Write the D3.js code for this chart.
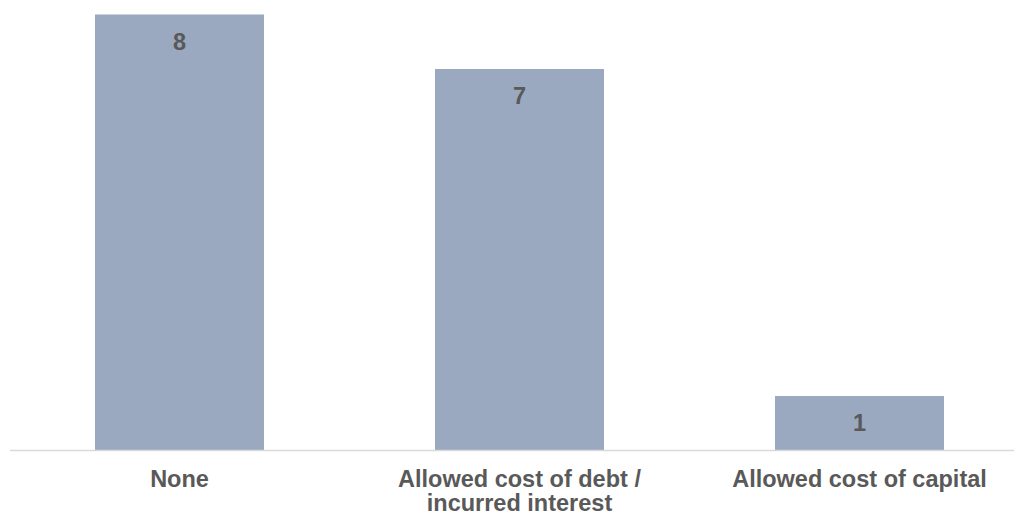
<!DOCTYPE html>
<html>
<head>
<meta charset="utf-8">
<script src="https://cdn.jsdelivr.net/npm/d3@7"></script>
<style>
  html, body { margin: 0; padding: 0; background: #ffffff; }
  svg { display: block; }
</style>
</head>
<body>
<svg id="chart" width="1014" height="515"></svg>
<script>
// Categories (label lines) and counts
const categories = ["None", "Allowed cost of debt / incurred interest", "Allowed cost of capital"];
const categoryLines = [["None"], ["Allowed cost of debt /", "incurred interest"], ["Allowed cost of capital"]];
const counts = [8, 7, 1];

const width = 1014, height = 515;
const baseline = 450.5;
const plotTop = 14.5;

const svg = d3.select("#chart");

const x = d3.scaleBand()
  .domain(categories)
  .range([9.5, 1029.5])
  .paddingInner(0.503)
  .paddingOuter(0.2515);

const y = d3.scaleLinear()
  .domain([0, 8])
  .range([baseline, plotTop]);

const fontFamily = "'Liberation Sans', Arial, sans-serif";
const textColor = "#595959";

// Bars
svg.append("g")
  .selectAll("rect")
  .data(counts)
  .join("rect")
  .attr("x", (d, i) => x(categories[i]))
  .attr("y", d => y(d))
  .attr("width", x.bandwidth())
  .attr("height", d => baseline - y(d))
  .attr("fill", "#9aa9bf");

// Value labels inside the bar tops
svg.append("g")
  .selectAll("text")
  .data(counts)
  .join("text")
  .attr("x", (d, i) => x(categories[i]) + x.bandwidth() / 2)
  .attr("y", d => y(d) + 35)
  .attr("text-anchor", "middle")
  .attr("font-family", fontFamily)
  .attr("font-weight", "bold")
  .attr("font-size", 23.5)
  .attr("fill", textColor)
  .text(d => d);

// Category axis baseline
svg.append("line")
  .attr("x1", 10)
  .attr("x2", width)
  .attr("y1", baseline)
  .attr("y2", baseline)
  .attr("stroke", "#d9d9d9")
  .attr("stroke-width", 1.5);

// Category labels
const labels = svg.append("g")
  .selectAll("text")
  .data(categories)
  .join("text")
  .attr("x", d => x(d) + x.bandwidth() / 2)
  .attr("y", 487)
  .attr("text-anchor", "middle")
  .attr("font-family", fontFamily)
  .attr("font-weight", "bold")
  .attr("font-size", 23.5)
  .attr("fill", textColor);

labels.selectAll("tspan")
  .data((d, i) => categoryLines[i])
  .join("tspan")
  .attr("x", function() { return this.parentNode.getAttribute("x"); })
  .attr("dy", (d, i) => i === 0 ? 0 : 23.5)
  .text(d => d);
</script>
</body>
</html>
